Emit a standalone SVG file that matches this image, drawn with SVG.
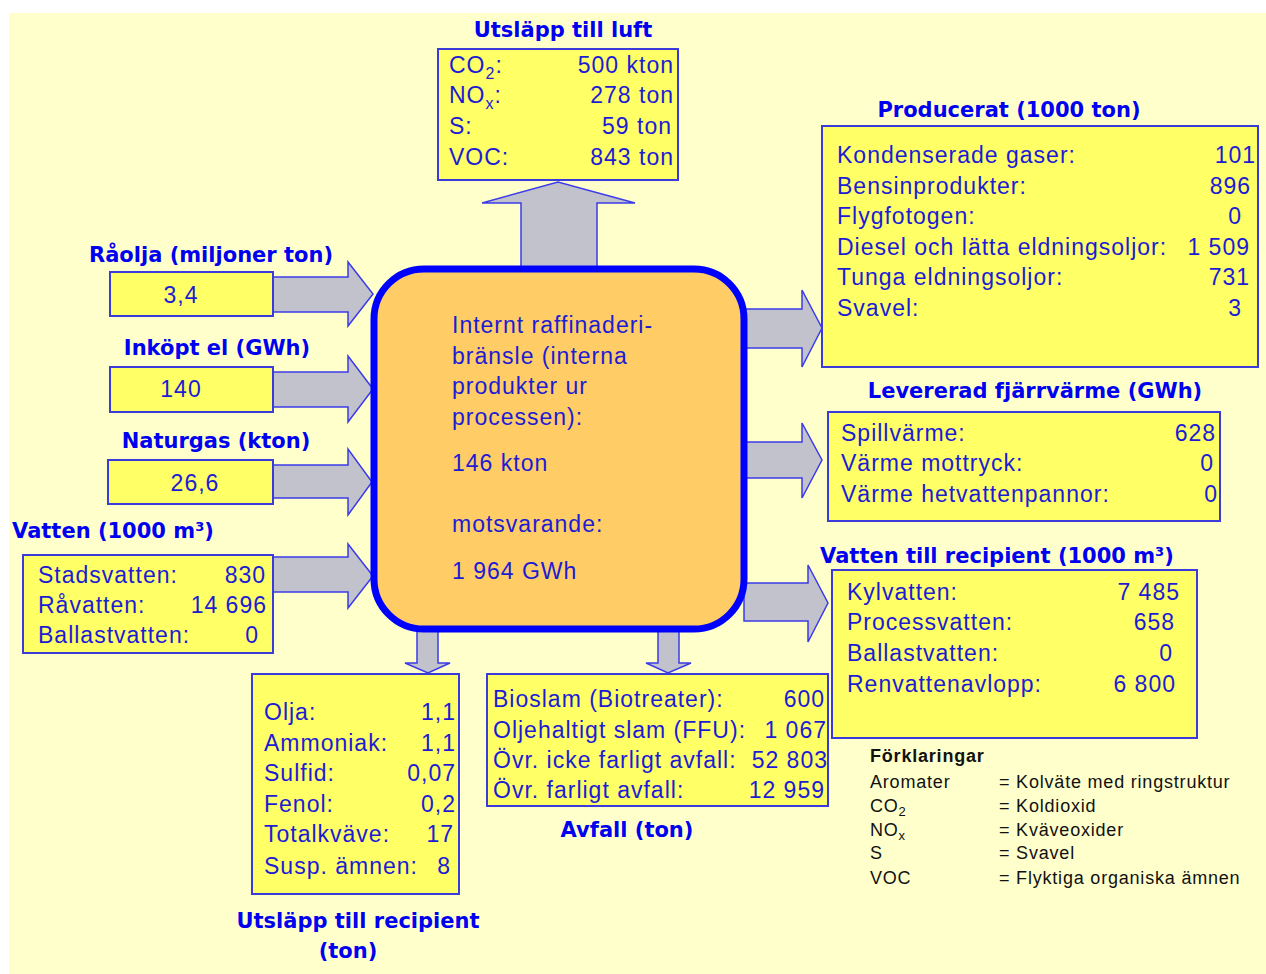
<svg xmlns="http://www.w3.org/2000/svg" width="1266" height="974" viewBox="0 0 1266 974">
<style>
.box{fill:#FFFF66;stroke:#3b3bdc;stroke-width:2}
.arr{fill:#C2C2CC;stroke:#3b3bea;stroke-width:1.5;stroke-linejoin:miter}
.t{font-family:"Liberation Sans",Arial,sans-serif;font-size:23px;letter-spacing:1px;fill:#1c1cd4}
.e{text-anchor:end}
.h{font-family:"DejaVu Sans",Verdana,sans-serif;font-weight:bold;font-size:21px;fill:#0000F0;text-anchor:middle}
.lg{font-family:"Liberation Sans",Arial,sans-serif;font-size:18px;letter-spacing:0.8px;fill:#111}
</style>
<rect width="1266" height="974" fill="#FFFFFF"/>
<rect x="9" y="13" width="1257" height="961" fill="#FFFFCC"/>

<g id="connectors">
  <polygon class="arr" points="521,270 521,203 482,203 558,182 635,203 597,203 597,270"/>
  <polygon class="arr" points="273,277 348,277 348,262 373,294 348,326 348,312 273,312"/>
  <polygon class="arr" points="273,372 348,372 348,356 373,389 348,422 348,407 273,407"/>
  <polygon class="arr" points="273,465 348,465 348,449 372,482 348,515 348,498 273,498"/>
  <polygon class="arr" points="273,557 348,557 348,544 373,576 348,608 348,592 273,592"/>
  <polygon class="arr" points="744,309 802,309 802,290 822,328 802,367 802,348 744,348"/>
  <polygon class="arr" points="744,442 802,442 802,423 822,460 802,498 802,478 744,478"/>
  <polygon class="arr" points="744,583 808,583 808,565 828,603 808,642 808,621 744,621"/>
  <polygon class="arr" points="417,628 438,628 438,663 450,663 428,673 405,663 417,663"/>
  <polygon class="arr" points="658,628 679,628 679,663 691,663 668,673 646,663 658,663"/>
</g>

<g id="center">
  <rect x="374" y="269" width="370" height="360" rx="50" ry="50" fill="#FFCC66" stroke="#0000FF" stroke-width="7"/>
  <text class="t" x="452" y="333">Internt raffinaderi-</text>
  <text class="t" x="452" y="364">bränsle (interna</text>
  <text class="t" x="452" y="394">produkter ur</text>
  <text class="t" x="452" y="425">processen):</text>
  <text class="t" x="452" y="471">146 kton</text>
  <text class="t" x="452" y="532">motsvarande:</text>
  <text class="t" x="452" y="579">1 964 GWh</text>
</g>

<g id="luft">
  <text class="h" x="563" y="37">Utsläpp till luft</text>
  <rect class="box" x="438" y="49" width="240" height="131"/>
  <text class="t" x="449" y="73">CO<tspan dy="6" font-size="16">2</tspan><tspan dy="-6">:</tspan></text>
  <text class="t" x="449" y="103">NO<tspan dy="6" font-size="16">x</tspan><tspan dy="-6">:</tspan></text>
  <text class="t" x="449" y="134">S:</text>
  <text class="t" x="449" y="165">VOC:</text>
  <text class="t e" x="674" y="73">500 kton</text>
  <text class="t e" x="674" y="103">278 ton</text>
  <text class="t e" x="672" y="134">59 ton</text>
  <text class="t e" x="674" y="165">843 ton</text>
</g>

<g id="raolja">
  <text class="h" x="211" y="262">Råolja (miljoner ton)</text>
  <rect class="box" x="110" y="272" width="163" height="44"/>
  <text class="t" x="181" y="303" text-anchor="middle">3,4</text>
</g>

<g id="inkopt">
  <text class="h" x="217" y="355">Inköpt el (GWh)</text>
  <rect class="box" x="110" y="367" width="163" height="45"/>
  <text class="t" x="181" y="397" text-anchor="middle">140</text>
</g>

<g id="naturgas">
  <text class="h" x="216" y="448">Naturgas (kton)</text>
  <rect class="box" x="108" y="460" width="165" height="44"/>
  <text class="t" x="195" y="491" text-anchor="middle">26,6</text>
</g>

<g id="vatten">
  <text class="h" x="113" y="538">Vatten (1000 m³)</text>
  <rect class="box" x="23" y="555" width="250" height="98"/>
  <text class="t" x="38" y="583">Stadsvatten:</text>
  <text class="t" x="38" y="613">Råvatten:</text>
  <text class="t" x="38" y="643">Ballastvatten:</text>
  <text class="t e" x="266" y="583">830</text>
  <text class="t e" x="267" y="613">14 696</text>
  <text class="t e" x="259" y="643">0</text>
</g>

<g id="producerat">
  <text class="h" x="1009" y="117">Producerat (1000 ton)</text>
  <rect class="box" x="822" y="126" width="436" height="241"/>
  <text class="t" x="837" y="163">Kondenserade gaser:</text>
  <text class="t" x="837" y="194">Bensinprodukter:</text>
  <text class="t" x="837" y="224">Flygfotogen:</text>
  <text class="t" x="837" y="255">Diesel och lätta eldningsoljor:</text>
  <text class="t" x="837" y="285">Tunga eldningsoljor:</text>
  <text class="t" x="837" y="316">Svavel:</text>
  <text class="t e" x="1256" y="163">101</text>
  <text class="t e" x="1251" y="194">896</text>
  <text class="t e" x="1242" y="224">0</text>
  <text class="t e" x="1250" y="255">1 509</text>
  <text class="t e" x="1250" y="285">731</text>
  <text class="t e" x="1242" y="316">3</text>
</g>

<g id="levererad">
  <text class="h" x="1035" y="398">Levererad fjärrvärme (GWh)</text>
  <rect class="box" x="828" y="412" width="392" height="109"/>
  <text class="t" x="841" y="441">Spillvärme:</text>
  <text class="t" x="841" y="471">Värme mottryck:</text>
  <text class="t" x="841" y="502">Värme hetvattenpannor:</text>
  <text class="t e" x="1216" y="441">628</text>
  <text class="t e" x="1214" y="471">0</text>
  <text class="t e" x="1218" y="502">0</text>
</g>

<g id="vattenrecipient">
  <text class="h" x="997" y="563">Vatten till recipient (1000 m³)</text>
  <rect class="box" x="832" y="570" width="365" height="168"/>
  <text class="t" x="847" y="600">Kylvatten:</text>
  <text class="t" x="847" y="630">Processvatten:</text>
  <text class="t" x="847" y="661">Ballastvatten:</text>
  <text class="t" x="847" y="692">Renvattenavlopp:</text>
  <text class="t e" x="1180" y="600">7 485</text>
  <text class="t e" x="1175" y="630">658</text>
  <text class="t e" x="1173" y="661">0</text>
  <text class="t e" x="1176" y="692">6 800</text>
</g>

<g id="utslapprecipient">
  <rect class="box" x="252" y="674" width="207" height="220"/>
  <text class="t" x="264" y="720">Olja:</text>
  <text class="t" x="264" y="751">Ammoniak:</text>
  <text class="t" x="264" y="781">Sulfid:</text>
  <text class="t" x="264" y="812">Fenol:</text>
  <text class="t" x="264" y="842">Totalkväve:</text>
  <text class="t" x="264" y="874">Susp. ämnen:</text>
  <text class="t e" x="456" y="720">1,1</text>
  <text class="t e" x="456" y="751">1,1</text>
  <text class="t e" x="456" y="781">0,07</text>
  <text class="t e" x="456" y="812">0,2</text>
  <text class="t e" x="454" y="842">17</text>
  <text class="t e" x="451" y="874">8</text>
  <text class="h" x="358" y="928">Utsläpp till recipient</text>
  <text class="h" x="348" y="958">(ton)</text>
</g>

<g id="avfall">
  <rect class="box" x="487" y="674" width="341" height="132"/>
  <text class="t" x="493" y="707">Bioslam (Biotreater):</text>
  <text class="t" x="493" y="738">Oljehaltigt slam (FFU):</text>
  <text class="t" x="493" y="768">Övr. icke farligt avfall:</text>
  <text class="t" x="493" y="798">Övr. farligt avfall:</text>
  <text class="t e" x="825" y="707">600</text>
  <text class="t e" x="827" y="738">1 067</text>
  <text class="t e" x="828" y="768">52 803</text>
  <text class="t e" x="825" y="798">12 959</text>
  <text class="h" x="627" y="837">Avfall (ton)</text>
</g>

<g id="legend">
  <text class="lg" x="870" y="762" font-weight="bold">Förklaringar</text>
  <text class="lg" x="870" y="788">Aromater</text>
  <text class="lg" x="870" y="812">CO<tspan dy="4" font-size="13">2</tspan></text>
  <text class="lg" x="870" y="836">NO<tspan dy="4" font-size="13">x</tspan></text>
  <text class="lg" x="870" y="859">S</text>
  <text class="lg" x="870" y="884">VOC</text>
  <text class="lg" x="999" y="788">= Kolväte med ringstruktur</text>
  <text class="lg" x="999" y="812">= Koldioxid</text>
  <text class="lg" x="999" y="836">= Kväveoxider</text>
  <text class="lg" x="999" y="859">= Svavel</text>
  <text class="lg" x="999" y="884">= Flyktiga organiska ämnen</text>
</g>
</svg>
